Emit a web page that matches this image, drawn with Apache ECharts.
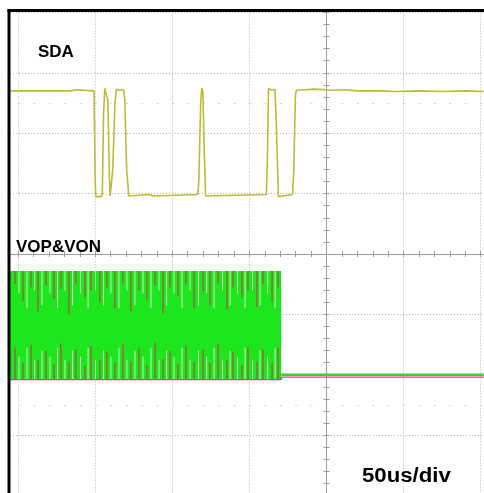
<!DOCTYPE html>
<html><head><meta charset="utf-8">
<script src="https://cdn.jsdelivr.net/npm/echarts@6/dist/echarts.min.js"></script>
<style>html,body{margin:0;padding:0;background:#fff}#c{width:484px;height:493px}</style>
</head><body><div id="c"></div>
<script>
// time axis in microseconds (50 us/div), vertical axis in divisions
const xTicks = [-250, 250, 50];
const yTicks = [-4, 4, 1];

// SDA trace: [time us, level div]
const sdaPoints = [
  [-205.3, 2.70], [-186.2, 2.70], [-185.6, 2.72], [-185.0, 2.70], [-175.2, 2.70], [-174.6, 2.72], [-174.0, 2.70],
  [-166.0, 2.70], [-165.4, 2.72], [-162.4, 2.72], [-161.8, 2.70], [-150.8, 2.70], [-150.0, 1.20], [-149.6, 0.95],
  [-146.0, 0.95], [-145.4, 0.99], [-144.6, 2.30], [-143.8, 2.74], [-142.6, 2.73], [-141.8, 2.55], [-140.8, 1.30],
  [-140.3, 0.96], [-139.2, 0.96], [-138.6, 1.40], [-137.2, 2.50], [-136.2, 2.73], [-134.5, 2.71], [-133.5, 2.74],
  [-131.6, 2.72], [-130.8, 2.55], [-129.6, 1.40], [-128.2, 0.96], [-127.5, 0.985], [-115.0, 0.985], [-114.2, 0.96],
  [-112.5, 0.96], [-111.8, 0.985], [-83.5, 0.985], [-82.8, 1.20], [-81.6, 2.50], [-80.9, 2.75], [-80.2, 2.70],
  [-79.4, 1.80], [-78.4, 0.96], [-77.5, 0.985], [-39.0, 0.985], [-38.4, 1.50], [-37.6, 2.74], [-36.0, 2.72],
  [-35.2, 2.74], [-33.4, 2.72], [-32.6, 2.20], [-31.2, 0.95], [-30.4, 0.96], [-22.0, 0.985], [-21.2, 1.40],
  [-20.2, 2.60], [-19.6, 2.71], [-14.0, 2.72], [-8.0, 2.73], [0.0, 2.72], [5.0, 2.71], [12.0, 2.72], [20.0, 2.70],
  [35.0, 2.70], [45.0, 2.69], [60.0, 2.70], [75.0, 2.69], [90.0, 2.70], [102.1, 2.69]
];

// VOP (green) switching envelope while audio is on
const vopBandT = [-205.3, -29.4];
const vopBandLevels = [-0.28, -2.08];
// VOP idle level after the burst
const vopIdleT = [-29.4, 102.1];
const vopIdleV = [-2.00, -2.00];
// VON (red) trace
const vonT = [-205.3, -29.4, -29.0, 102.1];
const vonV = [-2.08, -2.08, -2.04, -2.04];

// dark (VON) strokes visible inside the burst
const strokeT = [-202.0, -196.8, -191.6, -187.1, -181.9, -176.7, -172.2, -167.0, -162.5, -156.6, -152.7, -146.9,
  -142.4, -137.2, -132.0, -126.8, -121.6, -116.4, -111.2, -106.0, -101.5, -96.3, -91.1, -85.9, -80.0, -75.5,
  -70.3, -64.5, -60.6, -54.8, -50.9, -45.1, -41.2, -35.3, -31.4];
const strokeTopEnd = [-0.50, -0.78, -0.55, -0.95, -0.52, -0.74, -0.58, -1.00, -0.50, -0.72, -0.60, -0.80,
  -0.55, -0.90, -0.50, -0.95, -0.60, -0.75, -0.52, -0.98, -0.55, -0.70, -0.50, -0.90, -0.62, -0.85, -0.50,
  -0.92, -0.55, -0.72, -0.60, -0.88, -0.50, -0.80, -0.55];
const strokeBottomEnd = [-1.55, -1.80, -1.50, -1.75, -1.60, -1.82, -1.48, -1.78, -1.58, -1.85, -1.52, -1.76,
  -1.62, -1.80, -1.50, -1.78, -1.56, -1.84, -1.47, -1.74, -1.60, -1.82, -1.52, -1.78, -1.58, -1.80, -1.49,
  -1.76, -1.62, -1.84, -1.54, -1.78, -1.58, -1.80, -1.55];
// pale gaps inside the burst
const gapT = [-199.4, -194.2, -189.3, -184.5, -179.3, -174.4, -169.6, -164.7, -159.5, -154.6, -149.8, -144.6,
  -139.8, -134.6, -129.4, -124.2, -119.0, -113.8, -108.6, -103.7, -98.9, -93.7, -88.5, -83.0, -77.7, -72.9,
  -67.4, -62.5, -57.7, -52.8, -48.0, -43.1, -38.2, -33.3];
const gapTopEnd = [-0.65, -0.90, -0.60, -0.85];
const gapBottomEnd = [-1.70, -1.55, -1.75, -1.60];

const ghostLevels = [2.5, -2.5];

const labels = ['SDA', 'VOP&VON', '50us/div'];

// ---------- build ----------
const bandData = [[vopBandT[0], vopBandLevels[0], vopBandT[1], vopBandLevels[1]]];
const segData = [];
strokeT.forEach((t, i) => {
  segData.push([t, vopBandLevels[0], strokeTopEnd[i], 0]);
  segData.push([t, vopBandLevels[1], strokeBottomEnd[i], 0]);
});
gapT.forEach((t, i) => {
  segData.push([t, vopBandLevels[0], gapTopEnd[i % gapTopEnd.length], 1]);
  segData.push([t, vopBandLevels[1], gapBottomEnd[i % gapBottomEnd.length], 1]);
});

const gridColor = '#b4b4b4';
const axisColor = '#9c9c9c';
function xAx(pos, split) {
  return {
    type: 'value', min: xTicks[0], max: xTicks[1], interval: xTicks[2], position: pos,
    axisLine: { show: true, onZero: true, onZeroAxisIndex: 0, lineStyle: { color: axisColor, width: 1 } },
    axisTick: { show: true, length: 3, lineStyle: { color: axisColor } },
    minorTick: { show: true, splitNumber: 5, length: 3, lineStyle: { color: axisColor } },
    axisLabel: { show: false },
    splitLine: { show: split, lineStyle: { color: gridColor, type: [1, 2], width: 1 } },
    minorSplitLine: { show: false }
  };
}
function yAx(pos, split) {
  return {
    type: 'value', min: yTicks[0], max: yTicks[1], interval: yTicks[2], position: pos,
    axisLine: { show: true, onZero: true, onZeroAxisIndex: 0, lineStyle: { color: axisColor, width: 1 } },
    axisTick: { show: true, length: 3, lineStyle: { color: axisColor } },
    minorTick: { show: true, splitNumber: 5, length: 3, lineStyle: { color: axisColor } },
    axisLabel: { show: false },
    splitLine: { show: split, lineStyle: { color: gridColor, type: [1, 2], width: 1 } },
    minorSplitLine: { show: false }
  };
}

const chart = echarts.init(document.getElementById('c'), null, { renderer: 'canvas' });
chart.setOption({
  animation: false,
  backgroundColor: '#ffffff',
  grid: { left: -59, right: -228, top: 12.4, bottom: -2.6, outerBoundsMode: 'none', containLabel: false },
  xAxis: [xAx('bottom', true), xAx('top', false)],
  yAxis: [yAx('left', true), yAx('right', false)],
  series: [
    {
      type: 'custom', name: 'VOP burst', z: 3,
      data: bandData, encode: { x: [0, 2], y: [1, 3] },
      renderItem: function (params, api) {
        const p0 = api.coord([api.value(0), api.value(1)]);
        const p1 = api.coord([api.value(2), api.value(3)]);
        return { type: 'rect', shape: { x: p0[0], y: p0[1], width: p1[0] - p0[0], height: p1[1] - p0[1] },
          style: { fill: '#1ee61e' } };
      }
    },
    {
      type: 'custom', name: 'VON strokes', z: 4,
      data: segData, encode: { x: 0, y: [1, 2] },
      renderItem: function (params, api) {
        const p0 = api.coord([api.value(0), api.value(1)]);
        const p1 = api.coord([api.value(0), api.value(2)]);
        const gap = api.value(3) === 1;
        return { type: 'line', shape: { x1: p0[0], y1: p0[1], x2: p1[0], y2: p1[1] },
          style: { stroke: gap ? '#c6f2b8' : '#8a7232', lineWidth: gap ? 1 : 1.5 } };
      }
    },
    {
      type: 'line', name: 'VOP idle', z: 5, showSymbol: false,
      data: vopIdleT.map((t, i) => [t, vopIdleV[i]]),
      lineStyle: { color: '#2fd62f', width: 2.6 }
    },
    {
      type: 'line', name: 'VON', z: 6, showSymbol: false,
      data: vonT.map((t, i) => [t, vonV[i]]),
      lineStyle: { color: '#d2477a', width: 1.2 }
    },
    {
      type: 'line', name: 'SDA', z: 7, showSymbol: false,
      data: sdaPoints,
      lineStyle: { color: '#bcbc36', width: 1.6 },
      markLine: {
        silent: true, symbol: 'none', label: { show: false },
        lineStyle: { color: '#d2d2d2', type: [2, 13.4], width: 1 },
        data: ghostLevels.map(v => ({ yAxis: v }))
      }
    }
  ],
  graphic: [
    { type: 'rect', z: 100, shape: { x: 0, y: 0, width: 7.5, height: 493 }, style: { fill: '#fff' } },
    { type: 'rect', z: 100, shape: { x: 0, y: 0, width: 484, height: 9 }, style: { fill: '#fff' } },
    { type: 'rect', z: 101, shape: { x: 7.5, y: 9, width: 3, height: 484 }, style: { fill: '#000' } },
    { type: 'rect', z: 101, shape: { x: 7.5, y: 9, width: 476.5, height: 3 }, style: { fill: '#000' } },
    { type: 'text', z: 102, x: 38, y: 52, style: { text: labels[0], fill: '#000', verticalAlign: 'middle',
      font: 'bold 17px "Liberation Sans", Arial, sans-serif' } },
    { type: 'text', z: 102, x: 16, y: 247, style: { text: labels[1], fill: '#000', verticalAlign: 'middle',
      font: 'bold 17px "Liberation Sans", Arial, sans-serif' } },
    { type: 'text', z: 102, x: 362, y: 476, scaleX: 1.11, style: { text: labels[2], fill: '#000', verticalAlign: 'middle',
      font: 'bold 20px "Liberation Sans", Arial, sans-serif' } }
  ]
});
</script>
</body></html>
